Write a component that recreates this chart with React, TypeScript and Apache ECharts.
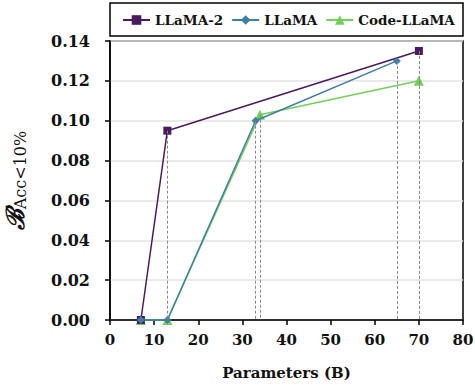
import React, { useEffect, useRef } from "react";
import * as echarts from "echarts";

const seriesNames = ["LLaMA-2", "LLaMA", "Code-LLaMA"];
const llama2Params = [7, 13, 70];
const llama2Values = [0.0, 0.095, 0.135];
const llamaParams = [7, 13, 33, 65];
const llamaValues = [0.0, 0.0, 0.1, 0.13];
const codeParams = [7, 13, 34, 70];
const codeValues = [0.0, 0.0, 0.103, 0.12];
const colors = ["#4b1a5e", "#3f7ea2", "#74cf5a"];
const symbols = ["rect", "diamond", "triangle"];

const FONT = "DejaVu Serif";

export default function App() {
  const ref = useRef<HTMLDivElement>(null);
  useEffect(() => {
    document.body.style.margin = "0";
    const chart = echarts.init(ref.current!, undefined, { renderer: "svg" });
    const params = [llama2Params, llamaParams, codeParams];
    const values = [llama2Values, llamaValues, codeValues];
    const series = seriesNames.map((name, i) => {
      const data = params[i].map((p, j) => [p, values[i][j]]);
      return {
        name,
        type: "line",
        data,
        symbol: symbols[i],
        symbolSize: i === 2 ? 10 : 8,
        z: i === 2 ? 2 : i === 1 ? 4 : 3,
        lineStyle: { color: colors[i], width: 1.5 },
        itemStyle: { color: colors[i] },
        markLine: {
          silent: true,
          symbol: "none",
          label: { show: false },
          lineStyle: { color: "#888", type: [3, 2], width: 1 },
          data: data
            .filter((d) => d[1] > 0)
            .map((d) => [{ coord: [d[0], d[1]] }, { coord: [d[0], 0] }]),
        },
      };
    });
    chart.setOption({
      animation: false,
      textStyle: { fontFamily: FONT },
      graphic: [
        {
          type: "rect",
          shape: { x: 110, y: 3, width: 353, height: 33 },
          style: { fill: "#fff", stroke: "#000", lineWidth: 1.5 },
          z: -1,
        },
      ],
      legend: {
        left: 122,
        top: 13,
        width: 340,
        padding: 0,
        itemWidth: 27,
        itemHeight: 12,
        itemGap: 8,
        textStyle: { fontFamily: FONT, fontWeight: "bold", fontSize: 13.5, color: "#111" },
        data: seriesNames,
      },
      grid: {
        left: 110,
        right: 12,
        top: 41,
        bottom: 65,
        show: true,
        borderColor: "#000",
        borderWidth: 1.5,
        outerBoundsMode: "none",
        containLabel: false,
      },
      xAxis: {
        type: "value",
        min: 0,
        max: 80,
        interval: 10,
        name: "Parameters (B)",
        nameLocation: "middle",
        nameGap: 45,
        nameTextStyle: { fontFamily: FONT, fontWeight: "bold", fontSize: 15, color: "#111" },
        axisLine: { lineStyle: { color: "#000", width: 1.5 } },
        axisTick: { show: true, length: 5, lineStyle: { color: "#000", width: 1.5 } },
        axisLabel: { fontFamily: FONT, fontWeight: "bold", fontSize: 15, color: "#111", margin: 12 },
        splitLine: { show: false },
      },
      yAxis: {
        type: "value",
        min: 0,
        max: 0.14,
        interval: 0.02,
        name: "{b|ℬ}{s|Acc<10%}",
        nameLocation: "middle",
        nameGap: 82,
        nameRotate: 90,
        nameTextStyle: {
          rich: {
            b: { fontFamily: FONT, fontWeight: "bold", fontStyle: "italic", fontSize: 25, color: "#111" },
            s: { fontFamily: FONT, fontSize: 16, color: "#111", padding: [10, 0, 0, 0] },
          },
        },
        axisLine: { show: true, lineStyle: { color: "#000", width: 1.5 } },
        axisTick: { show: true, length: 5, lineStyle: { color: "#000", width: 1.5 } },
        axisLabel: {
          fontFamily: FONT,
          fontWeight: "bold",
          fontSize: 16,
          color: "#111",
          margin: 20,
          formatter: (v: number) => v.toFixed(2),
        },
        splitLine: { show: true, lineStyle: { color: "#e3e3e3", width: 1.5 } },
      },
      series,
    });
    return () => chart.dispose();
  }, []);
  return <div ref={ref} style={{ width: 475, height: 385, position: "absolute", left: 0, top: 0 }} />;
}
